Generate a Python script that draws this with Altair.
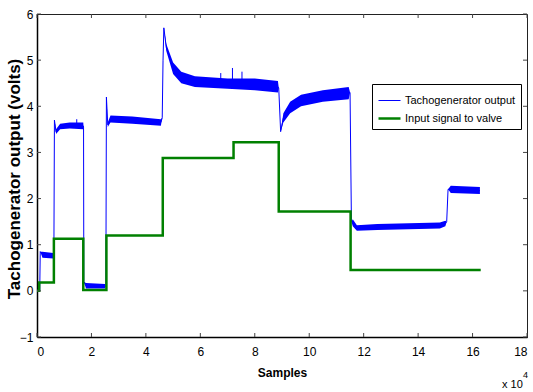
import altair as alt
import pandas as pd

# ---- data (x in units of 10^4 samples, y in volts) ----
# Tachogenerator output: position, lower and upper edge of the noisy trace
tacho_x = [0.00, 0.10, 0.12, 0.20, 0.60, 0.62, 0.64, 0.70, 0.85, 1.20, 1.70, 1.71,
           1.72, 1.80, 2.50, 2.53, 2.55, 2.60, 2.70, 3.50, 4.55, 4.60, 4.63, 4.66,
           4.75, 5.00, 5.30, 5.80, 7.00, 8.00, 8.85, 8.88, 8.95, 9.05, 9.30, 9.70,
           10.50, 11.45, 11.50, 11.55, 11.60, 11.75, 12.50, 14.80, 15.00, 15.05,
           15.10, 15.20, 16.27]
tacho_lo = [0.00, 0.00, 0.85, 0.72, 0.70, 0.78, 3.70, 3.40, 3.50, 3.52, 3.50, 3.55,
            0.20, 0.05, 0.05, 0.10, 4.20, 3.55, 3.65, 3.62, 3.58, 3.75, 5.00, 5.70,
            5.20, 4.70, 4.50, 4.42, 4.38, 4.35, 4.30, 4.40, 3.45, 3.65, 3.85, 4.00,
            4.10, 4.15, 4.30, 1.50, 1.40, 1.30, 1.32, 1.35, 1.40, 1.50,
            2.20, 2.12, 2.10]
tacho_hi = [0.00, 0.00, 0.85, 0.85, 0.82, 0.78, 3.70, 3.50, 3.62, 3.65, 3.65, 3.55,
            0.20, 0.17, 0.15, 0.10, 4.20, 3.65, 3.80, 3.78, 3.72, 3.75, 5.00, 5.70,
            5.35, 4.95, 4.75, 4.65, 4.60, 4.60, 4.55, 4.40, 3.45, 3.85, 4.10, 4.25,
            4.35, 4.42, 4.30, 1.50, 1.55, 1.42, 1.45, 1.48, 1.52, 1.50,
            2.20, 2.28, 2.25]

# Occasional spikes on the tachogenerator trace
spike_x = [1.46, 6.75, 7.18, 7.53]
spike_lo = [3.60, 4.50, 4.50, 4.50]
spike_hi = [3.72, 4.72, 4.83, 4.75]

# Input signal to valve (step levels, each held until the next position)
valve_x = [0.00, 0.08, 0.62, 1.70, 2.55, 4.62, 7.22, 8.88, 11.52, 16.30]
valve_y = [0.00, 0.18, 1.13, 0.02, 1.20, 2.88, 3.22, 1.72, 0.45, 0.45]

x_ticks = [0, 2, 4, 6, 8, 10, 12, 14, 16, 18]
y_ticks = [-1, 0, 1, 2, 3, 4, 5, 6]
series_names = ["Tachogenerator output", "Input signal to valve"]
series_colors = ["#0000ff", "#008000"]
series_widths = [1, 2.5]

# ---- tables ----
tacho = pd.DataFrame({"x": tacho_x, "lo": tacho_lo, "hi": tacho_hi})
tacho["mid"] = (tacho["lo"] + tacho["hi"]) / 2
tacho["i"] = range(len(tacho))
tacho["series"] = series_names[0]

valve = pd.DataFrame({"x": valve_x, "y": valve_y})
valve["i"] = range(len(valve))
valve["series"] = series_names[1]

spikes = pd.DataFrame({"x": spike_x, "lo": spike_lo, "hi": spike_hi})
xt = pd.DataFrame({"t": x_ticks})
yt = pd.DataFrame({"t": y_ticks})

W, H = 490, 323
FONT = "Liberation Sans"

xs = alt.Scale(domain=[0, 18], nice=False, zero=False)
ys = alt.Scale(domain=[-1, 6], nice=False, zero=False)
cs = alt.Scale(domain=series_names, range=series_colors)
ws = alt.Scale(domain=series_names, range=series_widths)

x_axis = alt.Axis(values=x_ticks, format="d", ticks=False, tickSize=0, grid=False,
                  labelPadding=9, labelFont=FONT, labelFontSize=12, labelColor="black",
                  domainColor="black", domainWidth=1.5,
                  title="Samples", titleFont=FONT, titleFontSize=12, titleFontWeight="bold",
                  titleColor="black", titleBaseline="alphabetic", titleY=39)
y_axis = alt.Axis(values=y_ticks, format="d", ticks=False, tickSize=0, grid=False,
                  labelPadding=4, labelFont=FONT, labelFontSize=12, labelColor="black",
                  domainColor="black", domainWidth=1.5,
                  title="Tachogenerator output (volts)", titleFont=FONT, titleFontSize=17,
                  titleFontWeight="bold", titleColor="black",
                  titleX=-23, titleY=H / 2 + 3, titleAngle=270, titleAlign="center",
                  titleBaseline="middle")

legend = alt.Legend(title=None, orient="none", legendX=335, legendY=70,
                    direction="vertical", strokeColor="black", fillColor="white",
                    padding=5, symbolType="stroke", symbolSize=484, rowPadding=0,
                    labelFont=FONT, labelFontSize=11, labelColor="black",
                    labelOffset=3)

band = alt.Chart(tacho).mark_area(color="#0000ff", opacity=1, orient="vertical").encode(
    x=alt.X("x:Q", scale=xs, axis=x_axis),
    y=alt.Y("lo:Q", scale=ys, axis=y_axis),
    y2="hi:Q",
)

tacho_line = alt.Chart(tacho).mark_line().encode(
    x=alt.X("x:Q", scale=xs),
    y=alt.Y("mid:Q", scale=ys),
    color=alt.Color("series:N", scale=cs, legend=legend, sort=series_names),
    strokeWidth=alt.StrokeWidth("series:N", scale=ws, legend=legend, sort=series_names),
    order="i:Q",
)

spike_rules = alt.Chart(spikes).mark_rule(color="#0000ff", strokeWidth=1).encode(
    x=alt.X("x:Q", scale=xs),
    y=alt.Y("lo:Q", scale=ys),
    y2="hi:Q",
)

valve_line = alt.Chart(valve).mark_line(interpolate="step-after").encode(
    x=alt.X("x:Q", scale=xs),
    y=alt.Y("y:Q", scale=ys),
    color=alt.Color("series:N", scale=cs, legend=legend, sort=series_names),
    strokeWidth=alt.StrokeWidth("series:N", scale=ws, legend=legend, sort=series_names),
    order="i:Q",
)

tick_color = "#444444"
bx = alt.Chart(xt).mark_rule(color=tick_color).encode(
    x=alt.X("t:Q", scale=xs), y=alt.value(H), y2=alt.value(H - 4))
tx = alt.Chart(xt).mark_rule(color=tick_color).encode(
    x=alt.X("t:Q", scale=xs), y=alt.value(0), y2=alt.value(4))
ly = alt.Chart(yt).mark_rule(color=tick_color).encode(
    y=alt.Y("t:Q", scale=ys), x=alt.value(0), x2=alt.value(4))
ry = alt.Chart(yt).mark_rule(color=tick_color).encode(
    y=alt.Y("t:Q", scale=ys), x=alt.value(W), x2=alt.value(W - 4))

exp_df = pd.DataFrame({"txt": ["x 10"], "sup": ["4"]})
exp_base = alt.Chart(exp_df).mark_text(align="left", baseline="alphabetic", font=FONT,
                                       fontSize=11, color="black").encode(
    text="txt:N", x=alt.value(465), y=alt.value(374))
exp_sup = alt.Chart(exp_df).mark_text(align="left", baseline="alphabetic", font=FONT,
                                      fontSize=9, color="black").encode(
    text="sup:N", x=alt.value(486), y=alt.value(364))

chart = alt.layer(band, tacho_line, spike_rules, valve_line, bx, tx, ly, ry,
                  exp_base, exp_sup).properties(
    width=W, height=H,
    autosize=alt.AutoSizeParams(type="none"),
    padding={"left": 37, "top": 14, "right": 6, "bottom": 55},
    background="white",
).configure_view(stroke="#222222", strokeWidth=1)

chart.save("out.html", embed_options={"renderer": "svg", "actions": False})
